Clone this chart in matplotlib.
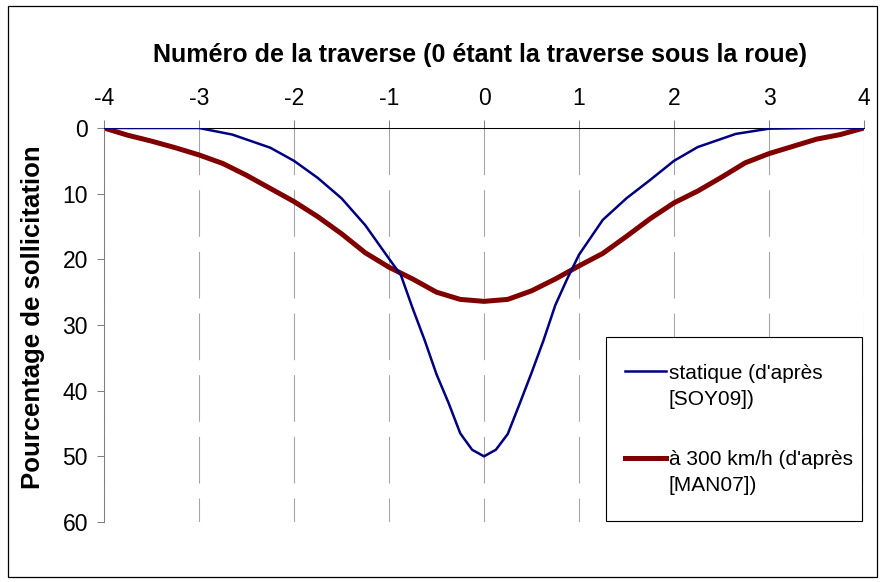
import matplotlib
matplotlib.use("Agg")
import matplotlib.pyplot as plt
from matplotlib.patches import Rectangle

plt.rcParams['font.family'] = ['Liberation Sans', 'DejaVu Sans']

# Sleeper index relative to the wheel (0 = sleeper under the wheel)
x_static = [-4, -3.5, -3, -2.65, -2.25, -2, -1.75, -1.5, -1.25, -1, -0.875, -0.75,
            -0.625, -0.5, -0.375, -0.25, -0.125, 0, 0.125, 0.25, 0.375, 0.5, 0.625,
            0.75, 0.875, 1, 1.25, 1.5, 1.75, 2, 2.25, 2.65, 3, 3.5, 4]
y_static = [0, 0, 0, 1.0, 3.0, 5.0, 7.6, 10.7, 14.8, 19.9, 22.4, 27.5,
            32.3, 37.5, 41.8, 46.5, 49.0, 50.0, 49.0, 46.6, 42.0, 37.3, 32.4,
            27.0, 23.0, 19.3, 14.0, 10.7, 7.9, 5.0, 2.9, 0.9, 0.1, 0, 0]

x_300 = [-4, -3.75, -3.5, -3.25, -3, -2.75, -2.5, -2.25, -2, -1.75, -1.5, -1.25,
         -1, -0.75, -0.5, -0.25, 0, 0.25, 0.5, 0.75, 1, 1.25, 1.5, 1.75, 2,
         2.25, 2.5, 2.75, 3, 3.25, 3.5, 3.75, 4]
y_300 = [0, 1.1, 2.0, 3.0, 4.1, 5.4, 7.2, 9.2, 11.2, 13.5, 16.1, 19.0,
         21.2, 23.0, 25.0, 26.1, 26.4, 26.1, 24.8, 23.0, 21.0, 19.1, 16.5, 13.8, 11.4,
         9.6, 7.5, 5.3, 3.9, 2.8, 1.7, 1.0, 0]

x_ticks = [-4, -3, -2, -1, 0, 1, 2, 3, 4]
y_ticks = [0, 10, 20, 30, 40, 50, 60]

label_static = "statique (d'après\n[SOY09])"
label_300 = "à 300 km/h (d'après\n[MAN07])"

W, H = 880, 582
fig = plt.figure(figsize=(W / 100, H / 100), dpi=100)
ax = fig.add_axes([104 / W, 60 / H, 760 / W, 394 / H])

# Dashed vertical grid drawn from the top (y = 0) downwards
ax.vlines(x_ticks, y_ticks[0], y_ticks[-1], colors='#a6a6a6', linewidth=0.8,
          linestyles=[(0, (42, 13.5))], zorder=1)

ax.plot(x_static, y_static, color='#000080', linewidth=1.8, label=label_static,
        zorder=3, solid_joinstyle='round')
ax.plot(x_300, y_300, color='#800000', linewidth=3.6, label=label_300,
        zorder=2, solid_joinstyle='round')

ax.set_xlim(-4, 4)
ax.set_ylim(60, 0)
ax.set_xticks(x_ticks)
ax.set_xticklabels([str(v) for v in x_ticks])
ax.set_yticks(y_ticks)
ax.set_yticklabels([str(v) for v in y_ticks])

ax.xaxis.tick_top()
ax.tick_params(axis='x', direction='out', length=5.8, width=0.75, color='#808080',
               pad=7.2, labelsize=16.5)
ax.tick_params(axis='y', direction='out', length=5, width=0.75, color='#808080',
               pad=6.5, labelsize=16.5)

for side in ('right', 'bottom'):
    ax.spines[side].set_visible(False)
ax.spines['top'].set_color('black')
ax.spines['top'].set_linewidth(0.75)
ax.spines['left'].set_color('#808080')
ax.spines['left'].set_linewidth(0.75)

fig.text(480 / W, 1 - 55 / H,
         "Numéro de la traverse (0 étant la traverse sous la roue)",
         ha='center', va='center', fontsize=18, fontweight='bold')
fig.text(33 / W, 1 - 317 / H, "Pourcentage de sollicitation",
         ha='center', va='center', rotation=90, fontsize=18.5, fontweight='bold')

# Legend box with its entries
legend_box = Rectangle((606 / W, 1 - 521 / H), 256 / W, 184 / H,
                       transform=fig.transFigure, facecolor='white',
                       edgecolor='black', linewidth=0.8, zorder=4)
ax.add_patch(legend_box)
legend_box.set_clip_on(False)

leg = ax.legend(loc='upper left', bbox_to_anchor=(625 / W, 1 - 364 / H),
                bbox_transform=fig.transFigure, fontsize=15, frameon=False,
                borderpad=0, labelspacing=2.0,
                handlelength=1.95, handletextpad=0.15, borderaxespad=0)
leg.set_zorder(5)
for t in leg.get_texts():
    t.set_linespacing(1.45)
for hp in leg._legend_handle_box.get_children()[0].get_children():
    hp.align = 'top'

# Outer chart border
fig.patches.append(Rectangle((8 / W, 5 / H), 869 / W, 571 / H,
                             transform=fig.transFigure, fill=False,
                             edgecolor='black', linewidth=0.9))

fig.savefig('out.png', dpi=100)
